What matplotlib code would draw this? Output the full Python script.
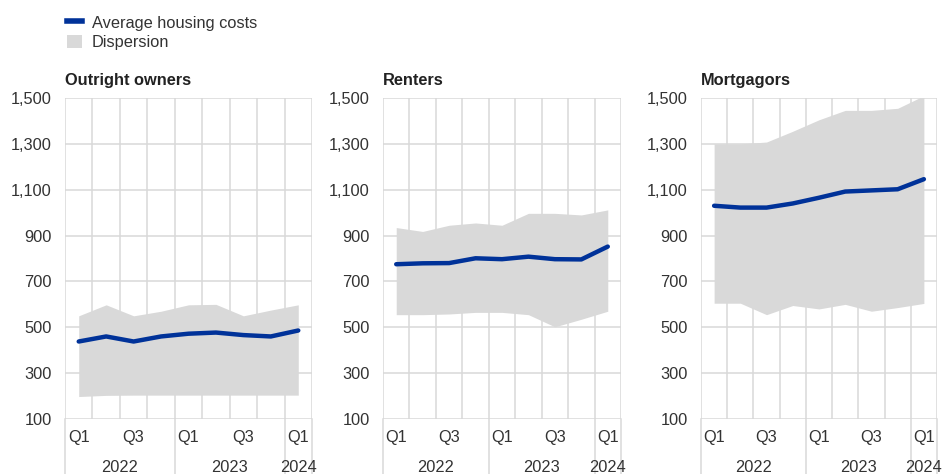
import matplotlib
matplotlib.use('Agg')
import matplotlib.pyplot as plt
from matplotlib.lines import Line2D
from matplotlib.patches import Patch
from matplotlib.ticker import FuncFormatter

plt.rcParams['font.family'] = ['Liberation Sans', 'DejaVu Sans']

# Dados (EUR por mes).
quarters = ['Q1', 'Q2', 'Q3', 'Q4', 'Q1', 'Q2', 'Q3', 'Q4', 'Q1']
quarter_labels = ['Q1', '', 'Q3', '', 'Q1', '', 'Q3', '', 'Q1']
years = ['2022', '2023', '2024']
year_spans = [(0, 4), (4, 8), (8, 9)]

titles = ['Outright owners', 'Renters', 'Mortgagors']

owners_avg = [438, 460, 438, 460, 472, 477, 466, 460, 486]
owners_low = [198, 203, 204, 204, 204, 204, 204, 204, 204]
owners_high = [550, 598, 550, 570, 598, 600, 550, 575, 598]

renters_avg = [775, 779, 780, 801, 797, 808, 797, 796, 852]
renters_low = [555, 555, 558, 565, 565, 555, 502, 535, 570]
renters_high = [935, 918, 945, 955, 945, 997, 997, 990, 1012]

mortg_avg = [1030, 1022, 1022, 1040, 1065, 1092, 1097, 1102, 1146]
mortg_low = [605, 605, 555, 595, 580, 600, 570, 586, 604]
mortg_high = [1300, 1300, 1308, 1355, 1405, 1446, 1446, 1455, 1510]

avg_lst = [owners_avg, renters_avg, mortg_avg]
low_lst = [owners_low, renters_low, mortg_low]
high_lst = [owners_high, renters_high, mortg_high]

y_ticks = [100, 300, 500, 700, 900, 1100, 1300, 1500]

BLUE = '#003299'
FILL = '#d9d9d9'
GRID = '#d9d9d9'
TEXT = '#333333'
FS = 11.8

W, H = 943, 474
panel_px = [(65, 312), (383, 621), (701, 937)]
top_px, bottom_px = 98, 419

fig = plt.figure(figsize=(W / 100, H / 100), dpi=100)

for (x0, x1), title, avg, low, high in zip(panel_px, titles, avg_lst, low_lst, high_lst):
    ax = fig.add_axes([x0 / W, 1 - bottom_px / H, (x1 - x0) / W, (bottom_px - top_px) / H])
    xs = [i + 0.5 for i in range(len(quarters))]

    ax.fill_between(xs, low, high, color=FILL, lw=0, zorder=2)
    ax.plot(xs, avg, color=BLUE, lw=3.2, solid_capstyle='round', zorder=3)

    ax.set_xlim(0, len(quarters))
    ax.set_ylim(100, 1500)
    ax.set_xticks(range(len(quarters) + 1))
    ax.set_xticklabels([])
    ax.set_yticks(y_ticks)
    ax.yaxis.set_major_formatter(FuncFormatter(lambda v, p: '{:,.0f}'.format(v)))
    ax.tick_params(axis='both', length=0, labelsize=FS, labelcolor=TEXT)
    ax.tick_params(axis='y', pad=9.5)
    ax.grid(True, color=GRID, lw=1.1, zorder=0)
    ax.set_axisbelow(True)
    for s in ax.spines.values():
        s.set_visible(False)

    # Rotulos de trimestre e ano abaixo do eixo.
    trans = ax.get_xaxis_transform()
    for x, lab in zip(xs, quarter_labels):
        if lab:
            ax.text(x, -0.058, lab, transform=trans, ha='center', va='center',
                    fontsize=FS, color=TEXT)
    for year, (a, b) in zip(years, year_spans):
        ax.text((a + b) / 2, -0.15, year, transform=trans, ha='center', va='center',
                fontsize=FS, color=TEXT)
    for x in [0, 4, 8, 9]:
        ax.add_line(Line2D([x, x], [0, -0.2], transform=trans, color=GRID,
                           lw=1.1, clip_on=False))

    ax.text(0, 1.055, title, transform=ax.transAxes, ha='left', va='center',
            fontsize=FS, fontweight='bold', color='#222222')

# Legenda no topo.
handles = [Line2D([], [], color=BLUE, lw=4),
           Patch(facecolor=FILL, edgecolor='none')]
fig.legend(handles, ['Average housing costs', 'Dispersion'], loc='upper left',
           bbox_to_anchor=(59 / W, 1 - 7 / H), frameon=False, fontsize=FS,
           handlelength=0.9, handleheight=0.9, handletextpad=0.6,
           labelspacing=0.25, labelcolor=TEXT, borderpad=0)

fig.savefig('out.png', dpi=100)
